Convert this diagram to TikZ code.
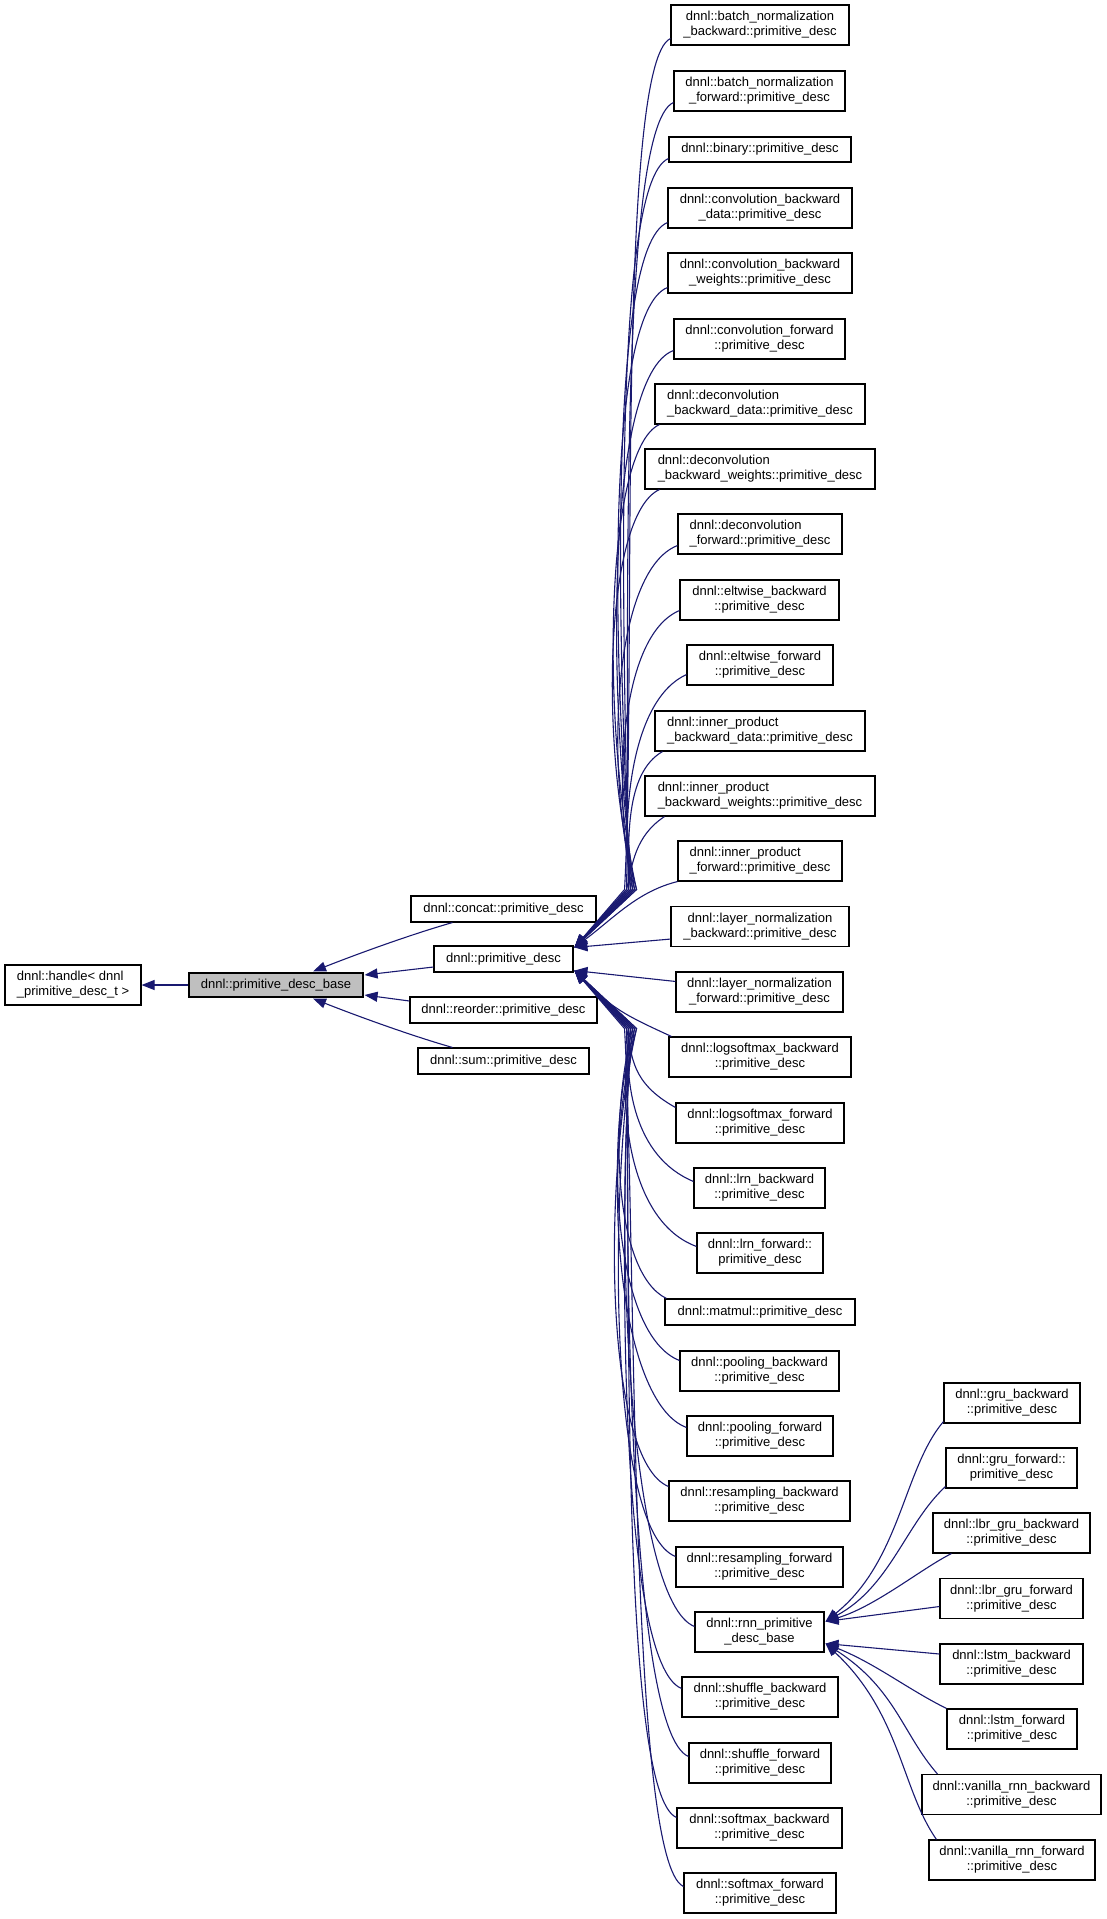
\documentclass[tikz,border=0pt]{standalone}
\usepackage{fontspec}
\setmainfont{Liberation Sans}
\usetikzlibrary{arrows.meta,calc}
\definecolor{edgeblue}{RGB}{25,25,112}
\definecolor{basegray}{RGB}{191,191,191}
\begin{document}
\begin{tikzpicture}[x=1pt,y=-1pt,
  box/.style={draw=black,line width=1.1pt,fill=white,inner sep=0pt,align=center,font=\fontsize{13}{15}\selectfont},
  lbox/.style={box,align=left},
  twoline/.style={minimum height=40pt},
  oneline/.style={minimum height=26pt},
  edge/.style={draw=edgeblue,line width=1.1pt,-{Triangle[length=13pt,width=10pt]}}]
\useasboundingbox (0,0) rectangle (1107,1919);

% left part
\node[lbox,twoline,minimum width=136pt] (handle) at (73,985) {dnnl::handle< dnnl\\\_primitive\_desc\_t >};
\node[box,minimum height=24pt,minimum width=174pt,fill=basegray] (base) at (276,985) {dnnl::primitive\_desc\_base};
\node[box,oneline,minimum width=185pt] (concat) at (503.5,909) {dnnl::concat::primitive\_desc};
\node[box,oneline,minimum width=139pt] (pd) at (503.5,959) {dnnl::primitive\_desc};
\node[box,oneline,minimum width=187pt] (reorder) at (503.5,1010) {dnnl::reorder::primitive\_desc};
\node[box,oneline,minimum width=171pt] (sum) at (503.5,1061) {dnnl::sum::primitive\_desc};

% right column
\node[box,twoline,minimum width=178pt] (bnb) at (760,25) {dnnl::batch\_normalization\\\_backward::primitive\_desc};
\node[box,twoline,minimum width=171pt] (bnf) at (759.5,91) {dnnl::batch\_normalization\\\_forward::primitive\_desc};
\node[box,oneline,minimum width=182pt,minimum height=25pt] (bin) at (760,149.5) {dnnl::binary::primitive\_desc};
\node[box,twoline,minimum width=184pt] (cbd) at (760,208) {dnnl::convolution\_backward\\\_data::primitive\_desc};
\node[box,twoline,minimum width=184pt] (cbw) at (760,273) {dnnl::convolution\_backward\\\_weights::primitive\_desc};
\node[box,twoline,minimum width=171pt] (cf) at (759.5,339) {dnnl::convolution\_forward\\::primitive\_desc};
\node[lbox,twoline,minimum width=210pt] (dbd) at (760,404) {dnnl::deconvolution\\\_backward\_data::primitive\_desc};
\node[lbox,twoline,minimum width=230pt] (dbw) at (760,469) {dnnl::deconvolution\\\_backward\_weights::primitive\_desc};
\node[lbox,twoline,minimum width=164pt] (df) at (760,534) {dnnl::deconvolution\\\_forward::primitive\_desc};
\node[box,twoline,minimum width=159pt] (eb) at (759.5,600) {dnnl::eltwise\_backward\\::primitive\_desc};
\node[box,twoline,minimum width=146pt] (ef) at (760,665) {dnnl::eltwise\_forward\\::primitive\_desc};
\node[lbox,twoline,minimum width=210pt] (ipbd) at (760,731) {dnnl::inner\_product\\\_backward\_data::primitive\_desc};
\node[lbox,twoline,minimum width=230pt] (ipbw) at (760,796) {dnnl::inner\_product\\\_backward\_weights::primitive\_desc};
\node[lbox,twoline,minimum width=164pt] (ipf) at (760,861) {dnnl::inner\_product\\\_forward::primitive\_desc};
\node[box,twoline,minimum width=178pt] (lnb) at (760,926.5) {dnnl::layer\_normalization\\\_backward::primitive\_desc};
\node[box,twoline,minimum width=167pt] (lnf) at (759.5,992) {dnnl::layer\_normalization\\\_forward::primitive\_desc};
\node[box,twoline,minimum width=182pt] (lsb) at (760,1057) {dnnl::logsoftmax\_backward\\::primitive\_desc};
\node[box,twoline,minimum width=168pt] (lsf) at (760,1123) {dnnl::logsoftmax\_forward\\::primitive\_desc};
\node[box,twoline,minimum width=131pt] (lrnb) at (759.5,1188) {dnnl::lrn\_backward\\::primitive\_desc};
\node[box,twoline,minimum width=126pt] (lrnf) at (760,1253) {dnnl::lrn\_forward::\\primitive\_desc};
\node[box,oneline,minimum width=190pt] (mm) at (760,1312) {dnnl::matmul::primitive\_desc};
\node[box,twoline,minimum width=159pt] (pb) at (759.5,1371) {dnnl::pooling\_backward\\::primitive\_desc};
\node[box,twoline,minimum width=146pt] (pf) at (760,1436) {dnnl::pooling\_forward\\::primitive\_desc};
\node[box,twoline,minimum width=181pt] (rb) at (759.5,1501) {dnnl::resampling\_backward\\::primitive\_desc};
\node[box,twoline,minimum width=167pt] (rf) at (759.5,1567) {dnnl::resampling\_forward\\::primitive\_desc};
\node[box,twoline,minimum width=129pt] (rnn) at (759.5,1632) {dnnl::rnn\_primitive\\\_desc\_base};
\node[box,twoline,minimum width=156pt] (sb) at (760,1697) {dnnl::shuffle\_backward\\::primitive\_desc};
\node[box,twoline,minimum width=142pt] (sf) at (760,1763) {dnnl::shuffle\_forward\\::primitive\_desc};
\node[box,twoline,minimum width=165pt] (smb) at (759.5,1828) {dnnl::softmax\_backward\\::primitive\_desc};
\node[box,twoline,minimum width=152pt] (smf) at (760,1893) {dnnl::softmax\_forward\\::primitive\_desc};

% rnn children
\node[box,twoline,minimum width=136pt] (grub) at (1012,1403) {dnnl::gru\_backward\\::primitive\_desc};
\node[box,twoline,minimum width=131pt] (gruf) at (1011.5,1468) {dnnl::gru\_forward::\\primitive\_desc};
\node[box,twoline,minimum width=157pt] (lgb) at (1011.5,1533) {dnnl::lbr\_gru\_backward\\::primitive\_desc};
\node[box,twoline,minimum width=143pt] (lgf) at (1011.5,1598.5) {dnnl::lbr\_gru\_forward\\::primitive\_desc};
\node[box,twoline,minimum width=143pt] (lstmb) at (1011.5,1664) {dnnl::lstm\_backward\\::primitive\_desc};
\node[box,twoline,minimum width=130pt] (lstmf) at (1012,1729) {dnnl::lstm\_forward\\::primitive\_desc};
\node[box,twoline,minimum width=179pt] (vrb) at (1011.5,1794.5) {dnnl::vanilla\_rnn\_backward\\::primitive\_desc};
\node[box,twoline,minimum width=166pt] (vrf) at (1012,1860) {dnnl::vanilla\_rnn\_forward\\::primitive\_desc};

% arrow targets
\coordinate (Tu) at ($(pd.north east)+(1,2)$);
\coordinate (Tl) at ($(pd.south east)+(1,-2)$);
\coordinate (Ru) at ($(rnn.north east)+(1,10)$);
\coordinate (Rl) at ($(rnn.south east)+(1,-9)$);

% base edges
\draw[edge] (base.west) -- (handle.east);
\draw[edge] ($(concat.south west)+(42,0)$) .. controls ($(concat.south west)+(0,12)$) and ($(base.north)+(80,-18)$) .. ($(base.north)+(37,-1)$);
\draw[edge] ($(pd.west)+(0,8)$) -- ($(base.east)+(1,-10)$);
\draw[edge] ($(reorder.west)+(0,-9)$) -- ($(base.east)+(1,10)$);
\draw[edge] ($(sum.north west)+(35,0)$) .. controls ($(sum.north west)+(-7,-12)$) and ($(base.south)+(80,18)$) .. ($(base.south)+(37,1)$);

% upper children of primitive_desc
\draw[edge] ($(bnb.south west)+(0,-7)$) .. controls ($(bnb.south west)+(-55,18)$) and ($(Tu)+(62,-278)$) .. ($(Tu)+(50,-58)$) -- (Tu);
\draw[edge] ($(bnf.south west)+(0,-9)$) .. controls ($(bnf.south west)+(-58,16)$) and ($(Tu)+(56,-278)$) .. ($(Tu)+(52,-58)$) -- (Tu);
\draw[edge] ($(bin.south west)+(0,-4)$) .. controls ($(bin.south west)+(-60,21)$) and ($(Tu)+(50,-278)$) .. ($(Tu)+(54,-58)$) -- (Tu);
\draw[edge] ($(cbd.south west)+(0,-6)$) .. controls ($(cbd.south west)+(-62,19)$) and ($(Tu)+(44,-278)$) .. ($(Tu)+(56,-58)$) -- (Tu);
\draw[edge] ($(cbw.south west)+(0,-6)$) .. controls ($(cbw.south west)+(-64,19)$) and ($(Tu)+(38,-268)$) .. ($(Tu)+(58,-58)$) -- (Tu);
\draw[edge] ($(cf.south west)+(0,-9)$) .. controls ($(cf.south west)+(-68,16)$) and ($(Tu)+(32,-246)$) .. ($(Tu)+(60,-58)$) -- (Tu);
\draw[edge] ($(dbd.south west)+(5,0)$) .. controls ($(dbd.south west)+(-50,25)$) and ($(Tu)+(26,-220)$) .. ($(Tu)+(62,-58)$) -- (Tu);
\draw[edge] ($(dbw.south west)+(15,0)$) .. controls ($(dbw.south west)+(-40,25)$) and ($(Tu)+(24,-197)$) .. ($(Tu)+(62,-58)$) -- (Tu);
\draw[edge] ($(df.south west)+(0,-9)$) .. controls ($(df.south west)+(-65,16)$) and ($(Tu)+(30,-178)$) .. ($(Tu)+(60,-58)$) -- (Tu);
\draw[edge] ($(eb.south west)+(0,-10)$) .. controls ($(eb.south west)+(-60,15)$) and ($(Tu)+(38,-155)$) .. ($(Tu)+(58,-58)$) -- (Tu);
\draw[edge] ($(ef.south west)+(0,-11)$) .. controls ($(ef.south west)+(-55,14)$) and ($(Tu)+(46,-133)$) .. ($(Tu)+(56,-58)$) -- (Tu);
\draw[edge] ($(ipbd.south west)+(8,0)$) .. controls ($(ipbd.south west)+(-30,22)$) and ($(Tu)+(54,-106)$) .. ($(Tu)+(54,-58)$) -- (Tu);
\draw[edge] ($(ipbw.south west)+(20,0)$) .. controls ($(ipbw.south west)+(-10,20)$) and ($(Tu)+(58,-83)$) .. ($(Tu)+(52,-58)$) -- (Tu);
\draw[edge] (ipf.south west) .. controls ($(ipf.south west)+(-40,10)$) and ($(Tu)+(40,-30)$) .. (Tu);
\draw[edge] ($(lnb.south west)+(0,-8)$) -- (Tu);

% lower children of primitive_desc
\draw[edge] ($(lnf.north west)+(0,10)$) -- (Tl);
\draw[edge] ($(lsb.north west)+(3,0)$) .. controls ($(lsb.north west)+(-45,-22)$) and ($(Tl)+(38,38)$) .. (Tl);
\draw[edge] ($(lsf.north west)+(0,5)$) .. controls ($(lsf.north west)+(-45,-20)$) and ($(Tl)+(58,86)$) .. ($(Tl)+(52,58)$) -- (Tl);
\draw[edge] ($(lrnb.north west)+(0,14)$) .. controls ($(lrnb.north west)+(-60,-11)$) and ($(Tl)+(50,112)$) .. ($(Tl)+(54,58)$) -- (Tl);
\draw[edge] ($(lrnf.north west)+(0,14)$) .. controls ($(lrnf.north west)+(-68,-11)$) and ($(Tl)+(42,135)$) .. ($(Tl)+(56,58)$) -- (Tl);
\draw[edge] ($(mm.north west)+(2,0)$) .. controls ($(mm.north west)+(-50,-25)$) and ($(Tl)+(34,153)$) .. ($(Tl)+(58,58)$) -- (Tl);
\draw[edge] ($(pb.north west)+(0,10)$) .. controls ($(pb.north west)+(-65,-15)$) and ($(Tl)+(28,175)$) .. ($(Tl)+(60,58)$) -- (Tl);
\draw[edge] ($(pf.north west)+(0,12)$) .. controls ($(pf.north west)+(-68,-13)$) and ($(Tl)+(24,198)$) .. ($(Tl)+(62,58)$) -- (Tl);
\draw[edge] ($(rb.north west)+(0,6)$) .. controls ($(rb.north west)+(-62,-19)$) and ($(Tl)+(26,219)$) .. ($(Tl)+(62,58)$) -- (Tl);
\draw[edge] ($(rf.north west)+(0,10)$) .. controls ($(rf.north west)+(-64,-15)$) and ($(Tl)+(32,243)$) .. ($(Tl)+(60,58)$) -- (Tl);
\draw[edge] ($(rnn.north west)+(0,15)$) .. controls ($(rnn.north west)+(-64,-10)$) and ($(Tl)+(38,268)$) .. ($(Tl)+(58,58)$) -- (Tl);
\draw[edge] ($(sb.north west)+(0,12)$) .. controls ($(sb.north west)+(-62,-13)$) and ($(Tl)+(44,278)$) .. ($(Tl)+(56,58)$) -- (Tl);
\draw[edge] ($(sf.north west)+(0,14)$) .. controls ($(sf.north west)+(-60,-11)$) and ($(Tl)+(50,278)$) .. ($(Tl)+(54,58)$) -- (Tl);
\draw[edge] ($(smb.north west)+(0,10)$) .. controls ($(smb.north west)+(-58,-15)$) and ($(Tl)+(56,278)$) .. ($(Tl)+(52,58)$) -- (Tl);
\draw[edge] ($(smf.north west)+(0,14)$) .. controls ($(smf.north west)+(-55,-11)$) and ($(Tl)+(62,278)$) .. ($(Tl)+(50,58)$) -- (Tl);

% rnn children
\draw[edge] ($(grub.south west)+(0,-2)$) .. controls ($(grub.south west)+(-40,45)$) and ($(Ru)+(75,-60)$) .. (Ru);
\draw[edge] ($(gruf.south west)+(0,-2)$) .. controls ($(gruf.south west)+(-40,35)$) and ($(Ru)+(65,-35)$) .. (Ru);
\draw[edge] ($(lgb.south west)+(19,0)$) .. controls ($(lgb.south west)+(-11,15)$) and ($(Ru)+(50,-15)$) .. (Ru);
\draw[edge] ($(lgf.west)+(0,8)$) -- (Ru);
\draw[edge] ($(lstmb.west)+(0,-10)$) -- (Rl);
\draw[edge] (lstmf.north west) .. controls ($(lstmf.north west)+(-40,-20)$) and ($(Rl)+(50,20)$) .. (Rl);
\draw[edge] ($(vrb.north west)+(16,0)$) .. controls ($(vrb.north west)+(-19,-40)$) and ($(Rl)+(70,45)$) .. (Rl);
\draw[edge] ($(vrf.north west)+(8,0)$) .. controls ($(vrf.north west)+(-27,-50)$) and ($(Rl)+(75,70)$) .. (Rl);
\end{tikzpicture}
\end{document}
